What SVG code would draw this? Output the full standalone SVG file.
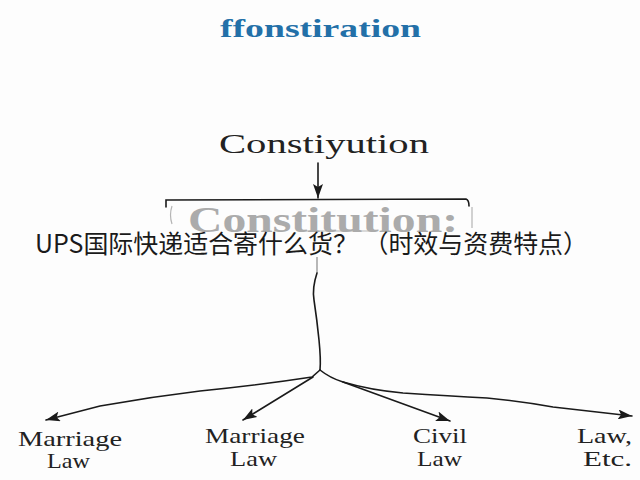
<svg xmlns="http://www.w3.org/2000/svg" width="640" height="480" viewBox="0 0 640 480">
<defs>
<style>
.lbl{font-family:"Liberation Serif","DejaVu Serif",serif;font-size:21px;fill:#222}
.ln{fill:none;stroke:#1a1a1a;stroke-width:1.6;stroke-linecap:round}
</style>
<marker id="ah" viewBox="0 0 14 10" refX="14" refY="5" markerWidth="14" markerHeight="10" markerUnits="userSpaceOnUse" orient="auto">
<path d="M0,0 L14,5 L0,10 L3,5 Z" fill="#1a1a1a"/>
</marker>
</defs>
<rect width="640" height="480" fill="#fdfdfd"/>
<g id="title">
<text x="220" y="37" textLength="201" lengthAdjust="spacingAndGlyphs" style="font-family:'Liberation Serif','DejaVu Serif',serif;font-weight:bold;font-size:25px;fill:#2370a8">ffonstiration</text>
</g>
<g id="node-constiyution">
<text x="219" y="153" textLength="210" lengthAdjust="spacingAndGlyphs" style="font-family:'Liberation Serif','DejaVu Serif',serif;font-size:28px;fill:#222">Constiyution</text>
</g>
<g id="node-constitution">
<path d="M166,207 L166,200 L466,199 Q469,200 469,206" class="ln"/>
<path d="M172,206 Q169,215 172,224 M472,207 L472,228 M300,231 L372,231" fill="none" stroke="#b5b5b5" stroke-width="1.2"/>
<text x="188" y="232" textLength="270" lengthAdjust="spacingAndGlyphs" style="font-family:'Liberation Serif','DejaVu Serif',serif;font-weight:bold;font-size:36px;fill:#ababab">Constitution:</text>
</g>
<g id="overlay">
<text x="35" y="253" textLength="553" lengthAdjust="spacingAndGlyphs" style="font-family:'Noto Sans CJK SC','Noto Sans',sans-serif;font-size:25px;fill:#1a1a1a">UPS国际快递适合寄什么货？ （时效与资费特点）</text>
</g>
<g id="node-marriage1">
<text class="lbl" x="18" y="446" textLength="104" lengthAdjust="spacingAndGlyphs">Marriage</text>
<text class="lbl" x="47" y="468" textLength="43" lengthAdjust="spacingAndGlyphs">Law</text>
</g>
<g id="node-marriage2">
<text class="lbl" x="205" y="443" textLength="100" lengthAdjust="spacingAndGlyphs">Marriage</text>
<text class="lbl" x="230" y="466" textLength="47" lengthAdjust="spacingAndGlyphs">Law</text>
</g>
<g id="node-civil">
<text class="lbl" x="413" y="443" textLength="54" lengthAdjust="spacingAndGlyphs">Civil</text>
<text class="lbl" x="417" y="466" textLength="45" lengthAdjust="spacingAndGlyphs">Law</text>
</g>
<g id="node-etc">
<text class="lbl" x="577" y="443" textLength="55" lengthAdjust="spacingAndGlyphs">Law,</text>
<text class="lbl" x="583" y="466" textLength="49" lengthAdjust="spacingAndGlyphs">Etc.</text>
</g>
<g id="connectors">
<path d="M318,163 L318,198" class="ln" marker-end="url(#ah)"/>
<path d="M317,257 L317,273" fill="none" stroke="#b0b0b0" stroke-width="1.8"/>
<path d="M317,273 Q312,288 314,300 Q317,320 319,340 Q321,360 320,370" class="ln"/>
<path d="M320,370 L312,377 Q260,385 200,391 Q150,397 100,406 L46,420" class="ln" marker-end="url(#ah)"/>
<path d="M313,377 L243,420" class="ln" marker-end="url(#ah)"/>
<path d="M320,370 Q330,378 343,382 L450,421" class="ln" marker-end="url(#ah)"/>
<path d="M343,382 Q370,390 403,393 Q450,396 487,398 Q520,401 553,407 L632,416" class="ln" marker-end="url(#ah)"/>
</g>
</svg>
